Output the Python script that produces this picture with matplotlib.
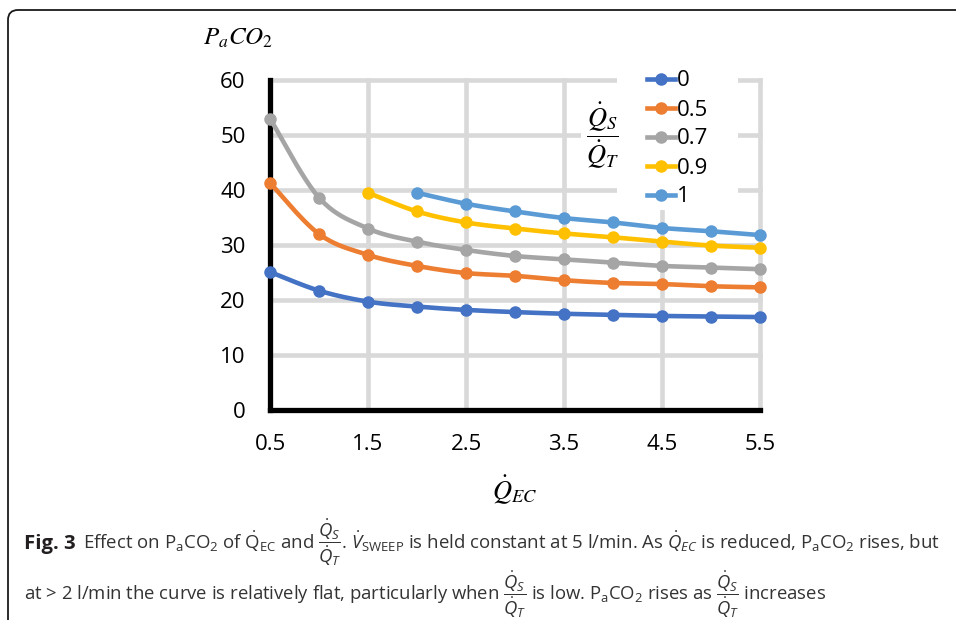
import numpy as np
import matplotlib
matplotlib.use('Agg')
import matplotlib.pyplot as plt
from matplotlib.patches import FancyBboxPatch, Rectangle
from matplotlib.transforms import IdentityTransform

plt.rcParams['font.family'] = ['Open Sans', 'DejaVu Sans']
plt.rcParams['mathtext.fontset'] = 'custom'
plt.rcParams['mathtext.rm'] = 'Open Sans'
plt.rcParams['mathtext.it'] = 'Open Sans:italic'
plt.rcParams['mathtext.bf'] = 'Open Sans:bold'

# data
flow_ec = [0.5, 1.0, 1.5, 2.0, 2.5, 3.0, 3.5, 4.0, 4.5, 5.0, 5.5]
paco2_0 = [25.1, 21.7, 19.7, 18.8, 18.2, 17.8, 17.5, 17.3, 17.1, 17.0, 16.9]
paco2_05 = [41.3, 32.0, 28.2, 26.2, 24.9, 24.4, 23.6, 23.1, 22.9, 22.5, 22.3]
paco2_07 = [53.0, 38.6, 33.0, 30.6, 29.1, 28.0, 27.4, 26.8, 26.2, 25.9, 25.6]
paco2_09 = [39.5, 36.1, 34.1, 33.0, 32.1, 31.4, 30.6, 29.9, 29.5]   # from 1.5
paco2_1 = [39.5, 37.5, 36.1, 34.9, 34.1, 33.1, 32.5, 31.8]          # from 2.0
labels = ['0', '0.5', '0.7', '0.9', '1']
colors = ['#4472C4', '#ED7D31', '#A5A5A5', '#FFC000', '#5B9BD5']
x_ticks = [0.5, 1.5, 2.5, 3.5, 4.5, 5.5]
y_ticks = [0, 10, 20, 30, 40, 50, 60]

series = [
    (flow_ec, paco2_0),
    (flow_ec, paco2_05),
    (flow_ec, paco2_07),
    (flow_ec[2:], paco2_09),
    (flow_ec[3:], paco2_1),
]


def smooth(x, y, n=24):
    # catmull-rom, like excel's smoothed lines
    p = np.column_stack([x, y]).astype(float)
    p = np.vstack([p[0], p, p[-1]])
    t = np.linspace(0, 1, n, endpoint=False)[:, None]
    out = []
    for i in range(1, len(p) - 2):
        p0, p1, p2, p3 = p[i - 1], p[i], p[i + 1], p[i + 2]
        seg = 0.5 * (2 * p1 + (p2 - p0) * t + (2 * p0 - 5 * p1 + 4 * p2 - p3) * t ** 2
                     + (-p0 + 3 * p1 - 3 * p2 + p3) * t ** 3)
        out.append(seg)
    out.append(p[-2][None])
    s = np.vstack(out)
    return s[:, 0], s[:, 1]


W, H = 956, 620
fig = plt.figure(figsize=(W / 100, H / 100), dpi=100)

# frame around the figure (open to the right and bottom)
frame = FancyBboxPatch((8, -60), 1100, H - 10 + 60, boxstyle='round,pad=0,rounding_size=10',
                       transform=IdentityTransform(), fc='none', ec='#1a1a1a', lw=1.3,
                       zorder=-5)
fig.add_artist(frame)

ax = fig.add_axes([270 / W, 1 - 410 / H, 490 / W, 330 / H])
ax.set_xlim(0.5, 5.5)
ax.set_ylim(0, 60)
ax.set_xticks(x_ticks)
ax.set_yticks(y_ticks)
ax.set_xticklabels([str(v) for v in x_ticks])
ax.tick_params(length=0, labelsize=16, colors='black')
ax.tick_params(axis='y', pad=17.5)
ax.tick_params(axis='x', pad=17)
ax.set_facecolor('none')
ax.set_axisbelow(True)
ax.grid(True, color='#d9d9d9', lw=3.3)
for gl in ax.get_xgridlines() + ax.get_ygridlines():
    gl.set_clip_on(False)
for s in ['top', 'right']:
    ax.spines[s].set_visible(False)
for s in ['left', 'bottom']:
    ax.spines[s].set_linewidth(3.8)
    ax.spines[s].set_color('black')
    ax.spines[s].set_zorder(1.5)

for (xs, ys), c, lab in zip(series, colors, labels):
    sx, sy = smooth(xs, ys)
    ax.plot(sx, sy, color=c, lw=3.3, solid_capstyle='round', zorder=3, clip_on=False)
    ax.plot(xs, ys, 'o', color=c, ms=8, zorder=3, clip_on=False)
    ax.plot([], [], color=c, lw=3.3, marker='o', ms=8, label=lab)

# white box under the legend
ax.add_patch(Rectangle((617, H - 210), 121, 142, transform=IdentityTransform(),
                       fc='white', ec='none', zorder=1, clip_on=False))
leg = ax.legend(loc='upper left', bbox_to_anchor=(647 / W, 1 - 70.5 / H),
                bbox_transform=fig.transFigure, frameon=False, fontsize=16,
                handlelength=1.26, handletextpad=0.1, labelspacing=0.36,
                borderpad=0.0, borderaxespad=0)

fig.text(603 / W, 1 - 136 / H, r'$\dfrac{\dot{Q}_S}{\dot{Q}_T}$', fontsize=19,
         ha='center', va='center', math_fontfamily='stix',
         bbox=dict(fc='white', ec='none', pad=4))

fig.text(238 / W, 1 - 45 / H, r'$P_aCO_2$', fontsize=18, ha='center', va='baseline',
         math_fontfamily='stix')
fig.text(515 / W, 1 - 499 / H, r'$\dot{Q}_{EC}$', fontsize=19, ha='center', va='baseline',
         math_fontfamily='stix')

# caption
cap_color = '#333333'
frac = r'$\dfrac{\dot{Q}_S}{\dot{Q}_T}$'
fig.text(24 / W, 1 - 549 / H, 'Fig. 3', fontsize=14.6, fontweight='bold', color='#231f20',
         va='baseline')
fig.text(83 / W, 1 - 549 / H,
         r'Effect on P$_{\rm a}$CO$_2$ of $\dot{\rm Q}_{\rm EC}$ and ' + frac + '. '
         r'$\dot{V}_{\rm SWEEP}$ is held constant at 5 l/min. As $\dot{Q}_{EC}$ is reduced, '
         r'P$_{\rm a}$CO$_2$ rises, but',
         fontsize=13.45, color=cap_color, va='baseline')
fig.text(24 / W, 1 - 601 / H,
         'at > 2 l/min the curve is relatively flat, particularly when ' + frac +
         r' is low. P$_{\rm a}$CO$_2$ rises as ' + frac + ' increases',
         fontsize=13.3, color=cap_color, va='baseline')

fig.savefig('out.png', dpi=100)
